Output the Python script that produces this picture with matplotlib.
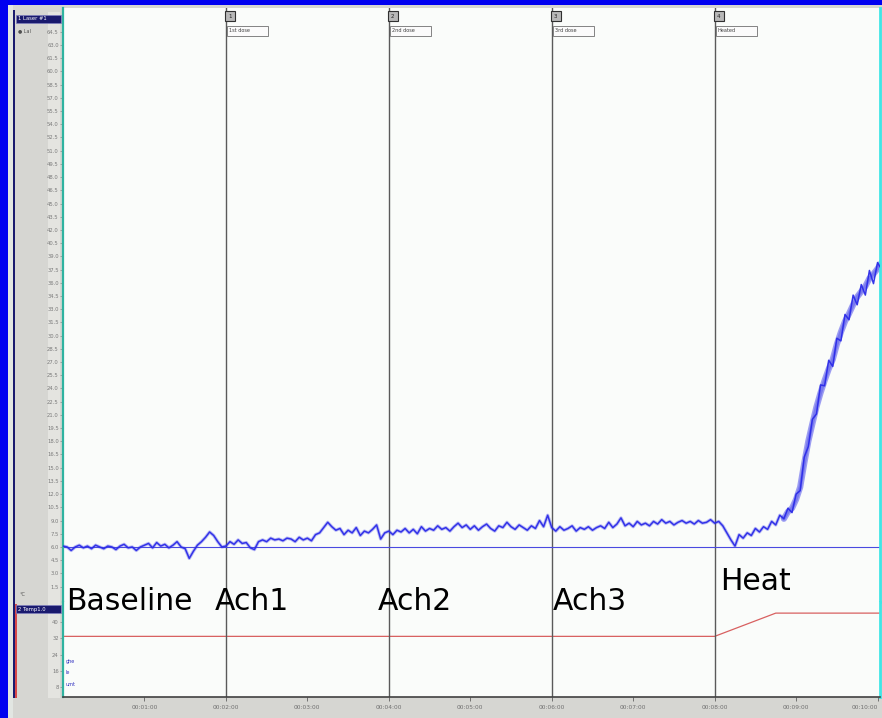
import numpy as np
import matplotlib
matplotlib.use("Agg")
import matplotlib.pyplot as plt
from matplotlib.patches import Rectangle

W, H = 882, 718

# ---- data -------------------------------------------------------------
sample_step = 0.05  # minutes between samples
laser_values = [
    6.1, 6.0, 5.6, 6.0, 6.2, 5.9, 6.1, 5.8, 6.2, 6.0,
    5.8, 6.1, 6.0, 5.7, 6.1, 6.3, 5.9, 6.0, 5.6, 6.0,
    6.2, 6.4, 5.9, 6.5, 6.1, 6.3, 5.9, 6.2, 6.6, 6.0,
    5.8, 4.7, 5.5, 6.2, 6.6, 7.1, 7.7, 7.3, 6.6, 6.0,
    6.1, 6.6, 6.3, 6.8, 6.4, 6.5, 5.9, 5.7, 6.6, 6.8,
    6.6, 7.0, 6.8, 6.9, 6.7, 7.0, 6.9, 6.6, 7.1, 6.8,
    7.0, 6.7, 7.4, 7.6, 8.2, 8.8, 8.3, 7.9, 8.1, 7.4,
    7.9, 7.6, 8.2, 7.3, 7.8, 7.6, 8.0, 8.5, 6.9, 7.6,
    7.8, 7.4, 7.9, 7.7, 8.1, 7.6, 8.0, 7.5, 8.3, 7.8,
    8.1, 7.9, 8.4, 8.0, 8.2, 7.8, 8.3, 8.7, 8.2, 8.5,
    8.0, 8.4, 7.9, 8.3, 8.6, 8.1, 7.8, 8.4, 8.2, 8.8,
    8.3, 8.0, 8.5, 8.2, 7.9, 8.4, 8.1, 9.0, 8.3, 9.6,
    8.2, 7.8, 8.3, 7.9, 8.1, 8.4, 7.8, 8.2, 8.0, 8.3,
    7.9, 8.2, 8.4, 8.1, 8.8, 8.2, 8.6, 9.3, 8.4, 8.7,
    8.3, 8.9, 8.5, 8.7, 8.4, 8.9, 8.6, 9.1, 8.7, 8.9,
    8.5, 8.8, 9.0, 8.7, 8.9, 8.6, 9.0, 8.7, 8.8, 9.1,
    8.7, 8.9, 8.4, 7.6, 6.8, 6.1, 7.4, 7.0, 7.6, 7.3,
    8.1, 7.7, 8.3, 8.0, 8.9, 8.5, 9.6, 9.2, 10.0, 10.4,
    11.4, 12.8, 15.5, 18.0, 20.0, 21.9, 23.5, 24.9, 26.2, 27.3,
    29.0, 30.4, 31.6, 32.5, 33.5, 34.4, 35.0, 35.6, 36.5, 37.0,
    37.6, 38.3,
]
# Rise-phase ripple (dense high-frequency noise during heating)
heat_ripple = [
    0.0, 0.4, -0.5, 0.6, -0.4, 0.7, -0.6, 0.5, -0.8, 0.9,
    -0.6, 1.0, -0.8, 0.7, -1.0, 0.8, -0.7, 1.1, -0.9, 0.8,
    -1.0, 0.9, -1.1, 0.7, -0.8,
]

temp_times = [0.0, 8.0, 8.75, 10.05]
temp_values = [33.0, 33.0, 44.5, 44.5]

event_times = [2.0, 4.0, 6.0, 8.0]
event_numbers = ["1", "2", "3", "4"]
event_comments = ["1st dose", "2nd dose", "3rd dose", "Heated"]
phase_labels = ["Baseline", "Ach1", "Ach2", "Ach3", "Heat"]

laser_ticks = [1.5, 3.0, 4.5, 6.0, 7.5, 9.0, 10.5, 12.0, 13.5, 15.0, 16.5,
               18.0, 19.5, 21.0, 22.5, 24.0, 25.5, 27.0, 28.5, 30.0, 31.5,
               33.0, 34.5, 36.0, 37.5, 39.0, 40.5, 42.0, 43.5, 45.0, 46.5,
               48.0, 49.5, 51.0, 52.5, 54.0, 55.5, 57.0, 58.5, 60.0, 61.5,
               63.0, 64.5]
temp_ticks = [8, 16, 24, 32, 40]
time_ticks = [1, 2, 3, 4, 5, 6, 7, 8, 9, 10]
time_labels = ["00:01:00", "00:02:00", "00:03:00", "00:04:00", "00:05:00",
               "00:06:00", "00:07:00", "00:08:00", "00:09:00", "00:10:00"]

# ---- helpers ----------------------------------------------------------
def box(x0, y0, x1, y1):
    """Pixel box (top-left origin) -> figure fraction rect."""
    return [x0 / W, 1 - y1 / H, (x1 - x0) / W, (y1 - y0) / H]


def fx(x):
    return x / W


def fy(y):
    return 1 - y / H


BLUE_FRAME = "#0000f0"
PANEL_GRAY = "#d6d6d2"
PLOT_BG = "#fafcfa"
TRACE = "#2b2be8"
TEAL = "#2fb3a0"
CYAN = "#3fe6e6"
NAVY = "#1a1a6e"

fig = plt.figure(figsize=(W / 100, H / 100), dpi=100)
fig.patch.set_facecolor(BLUE_FRAME)

def frect(x0, y0, x1, y1, zorder=0, **kw):
    r = Rectangle((fx(x0), fy(y1)), (x1 - x0) / W, (y1 - y0) / H,
                  transform=fig.transFigure, figure=fig, zorder=zorder, **kw)
    fig.patches.append(r)
    return r

# window background and side column
frect(8, 5, W, H, facecolor=PANEL_GRAY, edgecolor="none", zorder=-3)
frect(8, 5, 13, H, facecolor="#e2e6e2", edgecolor="none", zorder=-2)
frect(48, 12, 60, 698, facecolor="#e4e4e0", edgecolor="none", zorder=-2)
frect(13, 10, 15, 698, facecolor=NAVY, edgecolor="none", zorder=-1)
frect(15, 604, 16.5, 698, facecolor="#d84848", edgecolor="none", zorder=-1)

# ---- top panel: laser signal -----------------------------------------
ax1 = fig.add_axes(box(63, 8, 880, 602))
ax1.set_zorder(2)
ax1.set_facecolor(PLOT_BG)
t = np.arange(len(laser_values)) * sample_step
y = np.array(laser_values, dtype=float)
start = len(y) - len(heat_ripple)
y_noisy = y.copy()
y_noisy[start:] = y[start:] + np.array(heat_ripple)
ax1.plot(t[start:], y[start:], color=TRACE, lw=4.5, alpha=0.45, zorder=2,
         solid_capstyle="round")
ax1.plot(t, y, color=TRACE, lw=2.4, alpha=0.3, zorder=2)
ax1.plot(t, y_noisy, color=TRACE, lw=1.1, alpha=0.95, zorder=3)
ax1.axhline(6.0, color="#4a4ae0", lw=0.8, zorder=2)
for et in event_times:
    ax1.axvline(et, color="#5a5a5a", lw=1.0, zorder=1)
ax1.set_xlim(0, 10.03)
ax1.set_ylim(-0.25, 67.2)
ax1.set_yticks(laser_ticks)
ax1.set_yticklabels([f"{v:.1f}" for v in laser_ticks])
ax1.tick_params(axis="y", labelsize=3.8, labelcolor="#7a7a7a", color="#8a8a8a",
                length=2, width=0.5, pad=1)
ax1.set_xticks([])
for side in ("top", "bottom"):
    ax1.spines[side].set_visible(False)
ax1.spines["left"].set_color(TEAL)
ax1.spines["left"].set_linewidth(1.6)
ax1.spines["right"].set_color(CYAN)
ax1.spines["right"].set_linewidth(2.0)

# ---- bottom panel: temperature ---------------------------------------
ax2 = fig.add_axes(box(63, 602, 880, 697))
ax2.set_zorder(2)
ax2.set_facecolor(PLOT_BG)
ax2.plot(temp_times, temp_values, color="#d86060", lw=0.9)
for et in event_times:
    ax2.axvline(et, color="#5a5a5a", lw=1.0)
ax2.set_xlim(0, 10.03)
ax2.set_ylim(3, 50)
ax2.set_yticks(temp_ticks)
ax2.set_yticklabels([str(v) for v in temp_ticks])
ax2.tick_params(axis="y", labelsize=3.8, labelcolor="#7a7a7a", color="#8a8a8a",
                length=2, width=0.5, pad=1)
ax2.set_xticks(time_ticks)
ax2.set_xticklabels(time_labels)
ax2.tick_params(axis="x", labelsize=4.2, labelcolor="#707070", color="#606060",
                length=3, width=0.6, pad=3)
ax2.get_xticklabels()[-1].set_horizontalalignment("right")
ax2.spines["top"].set_visible(False)
ax2.spines["bottom"].set_color("#404040")
ax2.spines["bottom"].set_linewidth(1.2)
ax2.spines["left"].set_color(TEAL)
ax2.spines["left"].set_linewidth(1.6)
ax2.spines["right"].set_color(CYAN)
ax2.spines["right"].set_linewidth(2.0)
for yy, s in zip([662, 673, 685], ["ghe", "le", "umt"]):
    fig.text(fx(66), fy(yy), s, fontsize=3.5, color="#3030c0", va="center",
             zorder=5)

# ---- channel title boxes ---------------------------------------------
frect(16, 15, 61, 23, facecolor=NAVY, edgecolor="#8080c0", lw=0.5, zorder=4)
fig.text(fx(18), fy(19), "1 Laser #1", fontsize=3.8, color="white", va="center",
         zorder=5)
fig.text(fx(18), fy(31), "\u25cf Lal", fontsize=3.5, color="#505050", va="center")
frect(16, 605, 61, 613, facecolor=NAVY, edgecolor="#8080c0", lw=0.5, zorder=4)
fig.text(fx(18), fy(609), "2 Temp1.0", fontsize=3.8, color="white", va="center",
         zorder=5)
fig.text(fx(20), fy(594), "\u00b0C", fontsize=3.5, color="#505050", va="center")

# ---- event markers and comments --------------------------------------
for et, num, com in zip(event_times, event_numbers, event_comments):
    xp = 63 + et * (880 - 63) / 10.03
    frect(xp - 1, 11, xp + 9, 21, facecolor="#b8b8b8", edgecolor="#303030",
          lw=0.8, zorder=6)
    fig.text(fx(xp + 4), fy(16), num, fontsize=4, color="#202020",
             ha="center", va="center", zorder=7)
    frect(xp + 1, 26, xp + 42, 36, facecolor="#fbfbfb", edgecolor="#707070",
          lw=0.6, zorder=6)
    fig.text(fx(xp + 3), fy(31), com, fontsize=3.6, color="#404040",
             va="center", zorder=7)

# ---- phase labels ----------------------------------------------------
label_pos = [(66, 610), (215, 610), (378, 610), (553, 610), (720, 590)]
for (xp, yp), s in zip(label_pos, phase_labels):
    fig.text(fx(xp), fy(yp), s, fontsize=21.5, color="black",
             family="DejaVu Sans", ha="left", va="baseline", zorder=8)

fig.savefig("out.png", dpi=100, facecolor=fig.get_facecolor())
